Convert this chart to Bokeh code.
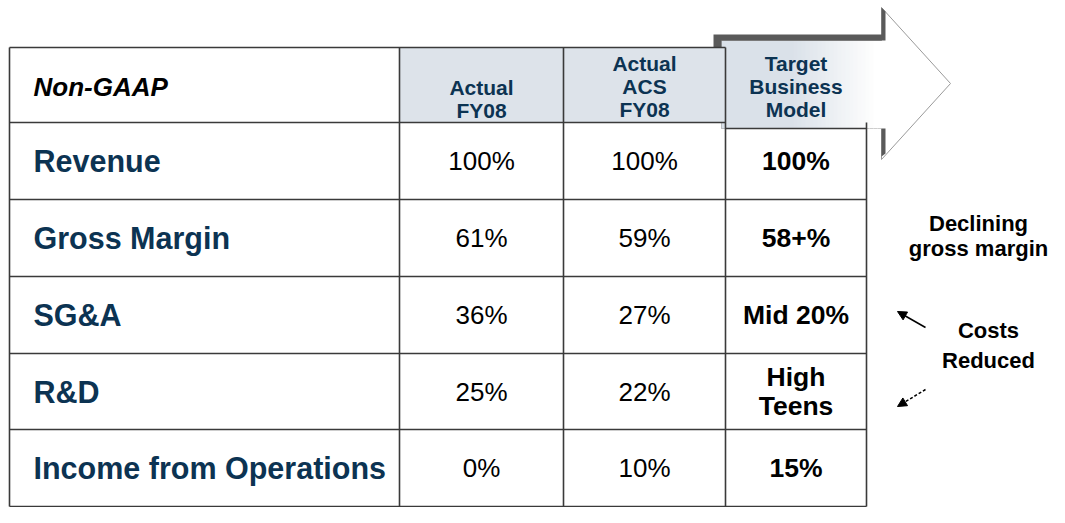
from bokeh.plotting import figure
from bokeh.models import Range1d, Arrow, NormalHead
from bokeh.core.properties import value
from bokeh.embed import file_html
from bokeh.resources import INLINE

# ---------------- data ----------------
row_labels = ["Revenue", "Gross Margin", "SG&A", "R&D", "Income from Operations"]
actual_fy08 = ["100%", "61%", "36%", "25%", "0%"]
actual_acs_fy08 = ["100%", "59%", "27%", "22%", "10%"]
target_model = ["100%", "58+%", "Mid 20%", "High\nTeens", "15%"]
col_headers = ["Actual\nFY08", "Actual\nACS\nFY08", "Target\nBusiness\nModel"]
corner_label = "Non-GAAP"
note_margin = ["Declining", "gross margin"]
note_costs = ["Costs", "Reduced"]

# ---------------- style / layout ----------------
NAVY = "#0c3352"
BORDER = "#3a3a3a"
HEAD_FILL = "#dde3ea"
FONT = value("Liberation Sans")

col_edges = [9, 399, 563, 725, 866]
row_edges = [47, 122, 199, 276, 353, 429, 506]
col_centers = [(a + b) / 2 for a, b in zip(col_edges[:-1], col_edges[1:])]
row_centers = [(a + b) / 2 for a, b in zip(row_edges[1:-1], row_edges[2:])]

p = figure(width=1049, height=507, x_range=Range1d(0, 1049), y_range=Range1d(507, 0),
           output_backend="svg", toolbar_location=None, min_border=0,
           x_axis_type=None, y_axis_type=None)
p.grid.visible = False
p.outline_line_color = None
p.background_fill_color = "white"
p.border_fill_color = "white"

# ---------------- big arrow behind the target header ----------------
shaft_l, shaft_r = col_edges[3] - 4, col_edges[4] + 15
shaft_t, shaft_b = 40, 128
head_t, head_b, tip_x = 7, 159, 950
tip_y = (head_t + head_b) / 2

p.patch([shaft_l, shaft_r, shaft_r, tip_x, shaft_r, shaft_r, shaft_l],
        [shaft_t, shaft_t, head_t, tip_y, head_b, shaft_b, shaft_b],
        fill_color="white", line_color="#9a9a9a", line_width=1)

# gradient of the header part of the arrow
n = 40
w = (shaft_r - shaft_l) / n
lefts = [shaft_l + i * w for i in range(n)]
cols = []
for l in lefts:
    xm = l + w / 2
    t = 0.0 if xm < 790 else min(1.0, (xm - 790) / 85)
    r = int(218 + (255 - 218) * t)
    g = int(225 + (255 - 225) * t)
    b = int(233 + (255 - 233) * t)
    cols.append("#%02x%02x%02x" % (r, g, b))
p.quad(left=lefts, right=[l + w + 0.5 for l in lefts], top=[shaft_t + 0.5] * n,
       bottom=[shaft_b] * n, fill_color=cols, line_color=None)
p.segment(x0=[shaft_l], y0=[shaft_t], x1=[shaft_r], y1=[shaft_t], line_color="#9a9a9a", line_width=1)

# dark extrusion / shadow
p.patch([shaft_l - 8, shaft_l - 8, shaft_r, shaft_r, shaft_r + 4, shaft_r + 4, shaft_l, shaft_l],
        [row_edges[0] + 1, shaft_t - 6, shaft_t - 6, head_t, head_t + 4, shaft_t, shaft_t, row_edges[0] + 1],
        fill_color="#5a5a5a", line_color=None)
p.patch([shaft_r, shaft_r + 4, shaft_r + 4, shaft_r],
        [shaft_b, shaft_b, head_b - 6, head_b - 3],
        fill_color="#5a5a5a", line_color=None)

# ---------------- header fills ----------------
p.quad(left=col_edges[1:3], right=col_edges[2:4], top=[row_edges[0]] * 2,
       bottom=[row_edges[1]] * 2, fill_color=HEAD_FILL, line_color=None)

# ---------------- grid lines ----------------
x0, y0, x1, y1 = [], [], [], []
for yy in row_edges[:2]:
    x0.append(col_edges[0]); x1.append(col_edges[3]); y0.append(yy); y1.append(yy)
x0.append(col_edges[3]); x1.append(col_edges[4]); y0.append(shaft_b); y1.append(shaft_b)
for yy in row_edges[2:]:
    x0.append(col_edges[0]); x1.append(col_edges[4]); y0.append(yy); y1.append(yy)
for xx in col_edges[:4]:
    x0.append(xx); x1.append(xx); y0.append(row_edges[0]); y1.append(row_edges[-1])
x0.append(col_edges[4]); x1.append(col_edges[4]); y0.append(row_edges[1]); y1.append(row_edges[-1])
p.segment(x0=x0, y0=y0, x1=x1, y1=y1, line_color=BORDER, line_width=1.6)

# ---------------- texts ----------------
p.text(x=[33], y=[86], text=[corner_label], text_font=FONT, text_font_style="bold italic",
       text_font_size="26px", text_color="black", text_align="left", text_baseline="middle")

hdr_y = [110 - (h.count("\n")) * 24 / 2 for h in col_headers]
p.text(x=col_centers[1:], y=hdr_y, text=col_headers, text_font=FONT, text_font_style="bold",
       text_font_size="21px", text_color=NAVY, text_align="center", text_baseline="middle",
       text_line_height=1.0)

p.text(x=[33] * len(row_labels), y=row_centers, text=row_labels, text_font=FONT,
       text_font_style="bold", text_font_size="30.5px", text_color=NAVY,
       text_align="left", text_baseline="middle")

p.text(x=[col_centers[1]] * 5, y=row_centers, text=actual_fy08, text_font=FONT,
       text_font_size="26px", text_color="black", text_align="center", text_baseline="middle")
p.text(x=[col_centers[2]] * 5, y=row_centers, text=actual_acs_fy08, text_font=FONT,
       text_font_size="26px", text_color="black", text_align="center", text_baseline="middle")
p.text(x=[col_centers[3]] * 5, y=row_centers, text=target_model, text_font=FONT,
       text_font_style="bold", text_font_size="26.5px", text_color="black",
       text_align="center", text_baseline="middle", text_line_height=0.97)

# side notes
p.text(x=[978, 978], y=[223, 248], text=note_margin, text_font=FONT, text_font_style="bold",
       text_font_size="22px", text_color="black", text_align="center", text_baseline="middle")
p.text(x=[988, 988], y=[330, 360], text=note_costs, text_font=FONT, text_font_style="bold",
       text_font_size="22px", text_color="black", text_align="center", text_baseline="middle")

p.add_layout(Arrow(x_start=925, y_start=327, x_end=897, y_end=311, line_width=1.5,
                   line_color="black",
                   end=NormalHead(size=9, fill_color="black", line_color="black")))
p.add_layout(Arrow(x_start=925, y_start=389, x_end=897, y_end=406, line_width=1.5,
                   line_color="black", line_dash="3 2",
                   end=NormalHead(size=9, fill_color="black", line_color="black")))

open("out.html", "w").write(file_html(p, INLINE))
